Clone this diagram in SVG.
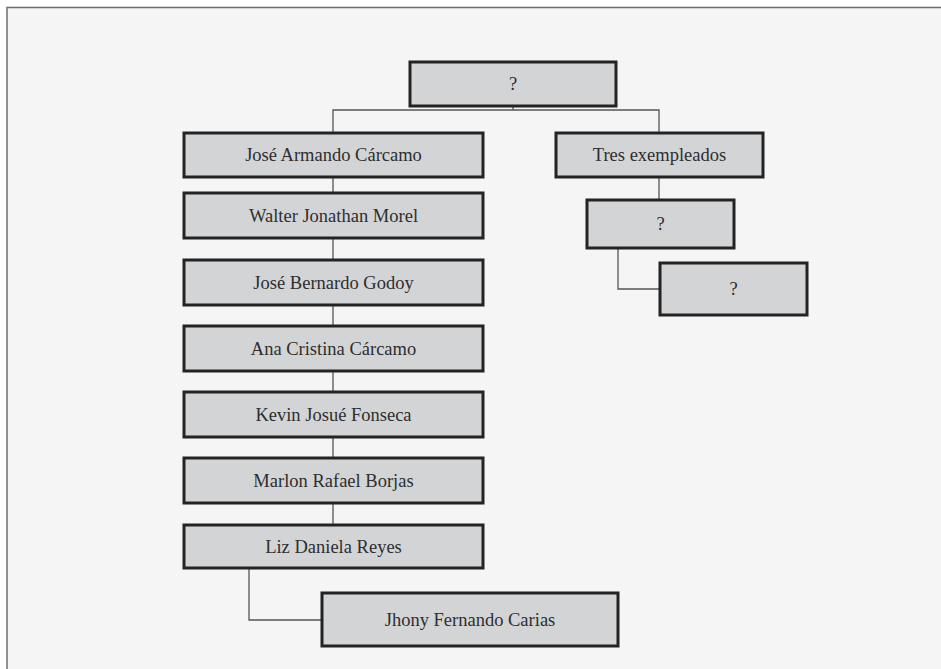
<svg xmlns="http://www.w3.org/2000/svg" width="941" height="669" viewBox="0 0 941 669">
<style>
.box{fill:#d3d4d6;stroke:#232323;stroke-width:3}
.lbl{font-family:"Liberation Serif","DejaVu Serif",serif;font-size:18.5px;fill:#2e2e2e;text-anchor:middle;dominant-baseline:central}
.conn{fill:none;stroke:#555;stroke-width:1.3}
</style>
<rect x="0" y="0" width="941" height="669" fill="#ffffff"/>
<rect x="7" y="7.5" width="960" height="700" fill="#f5f5f5" stroke="#6e6e6e" stroke-width="1.5"/>
<g id="connectors">
<path class="conn" d="M513 106 V110 M333 133 V110 H659 V133"/>
<path class="conn" d="M333 177 V193 M333 238 V260 M333 305 V326 M333 371 V392 M333 437 V458 M333 503 V525"/>
<path class="conn" d="M249 568 V620 H322"/>
<path class="conn" d="M659 177 V200"/>
<path class="conn" d="M618 248 V289 H660"/>
</g>
<g id="n-top"><rect class="box" x="410" y="62" width="206" height="44"/><text class="lbl" x="513" y="84">?</text></g>
<g id="n-jose-armando"><rect class="box" x="184" y="133" width="299" height="44"/><text class="lbl" x="333.5" y="155">José Armando Cárcamo</text></g>
<g id="n-walter"><rect class="box" x="184" y="193" width="299" height="45"/><text class="lbl" x="333.5" y="215.5">Walter Jonathan Morel</text></g>
<g id="n-jose-bernardo"><rect class="box" x="184" y="260" width="299" height="45"/><text class="lbl" x="333.5" y="282.5">José Bernardo Godoy</text></g>
<g id="n-ana"><rect class="box" x="184" y="326" width="299" height="45"/><text class="lbl" x="333.5" y="348.5">Ana Cristina Cárcamo</text></g>
<g id="n-kevin"><rect class="box" x="184" y="392" width="299" height="45"/><text class="lbl" x="333.5" y="414.5">Kevin Josué Fonseca</text></g>
<g id="n-marlon"><rect class="box" x="184" y="458" width="299" height="45"/><text class="lbl" x="333.5" y="480.5">Marlon Rafael Borjas</text></g>
<g id="n-liz"><rect class="box" x="184" y="525" width="299" height="43"/><text class="lbl" x="333.5" y="546.5">Liz Daniela Reyes</text></g>
<g id="n-jhony"><rect class="box" x="322" y="593" width="296" height="53"/><text class="lbl" x="470" y="619.5">Jhony Fernando Carias</text></g>
<g id="n-tres"><rect class="box" x="556" y="133" width="207" height="44"/><text class="lbl" x="659.5" y="155">Tres exempleados</text></g>
<g id="n-q2"><rect class="box" x="587" y="200" width="147" height="48"/><text class="lbl" x="660.5" y="224">?</text></g>
<g id="n-q3"><rect class="box" x="660" y="263" width="147" height="52"/><text class="lbl" x="733.5" y="289">?</text></g>
</svg>
